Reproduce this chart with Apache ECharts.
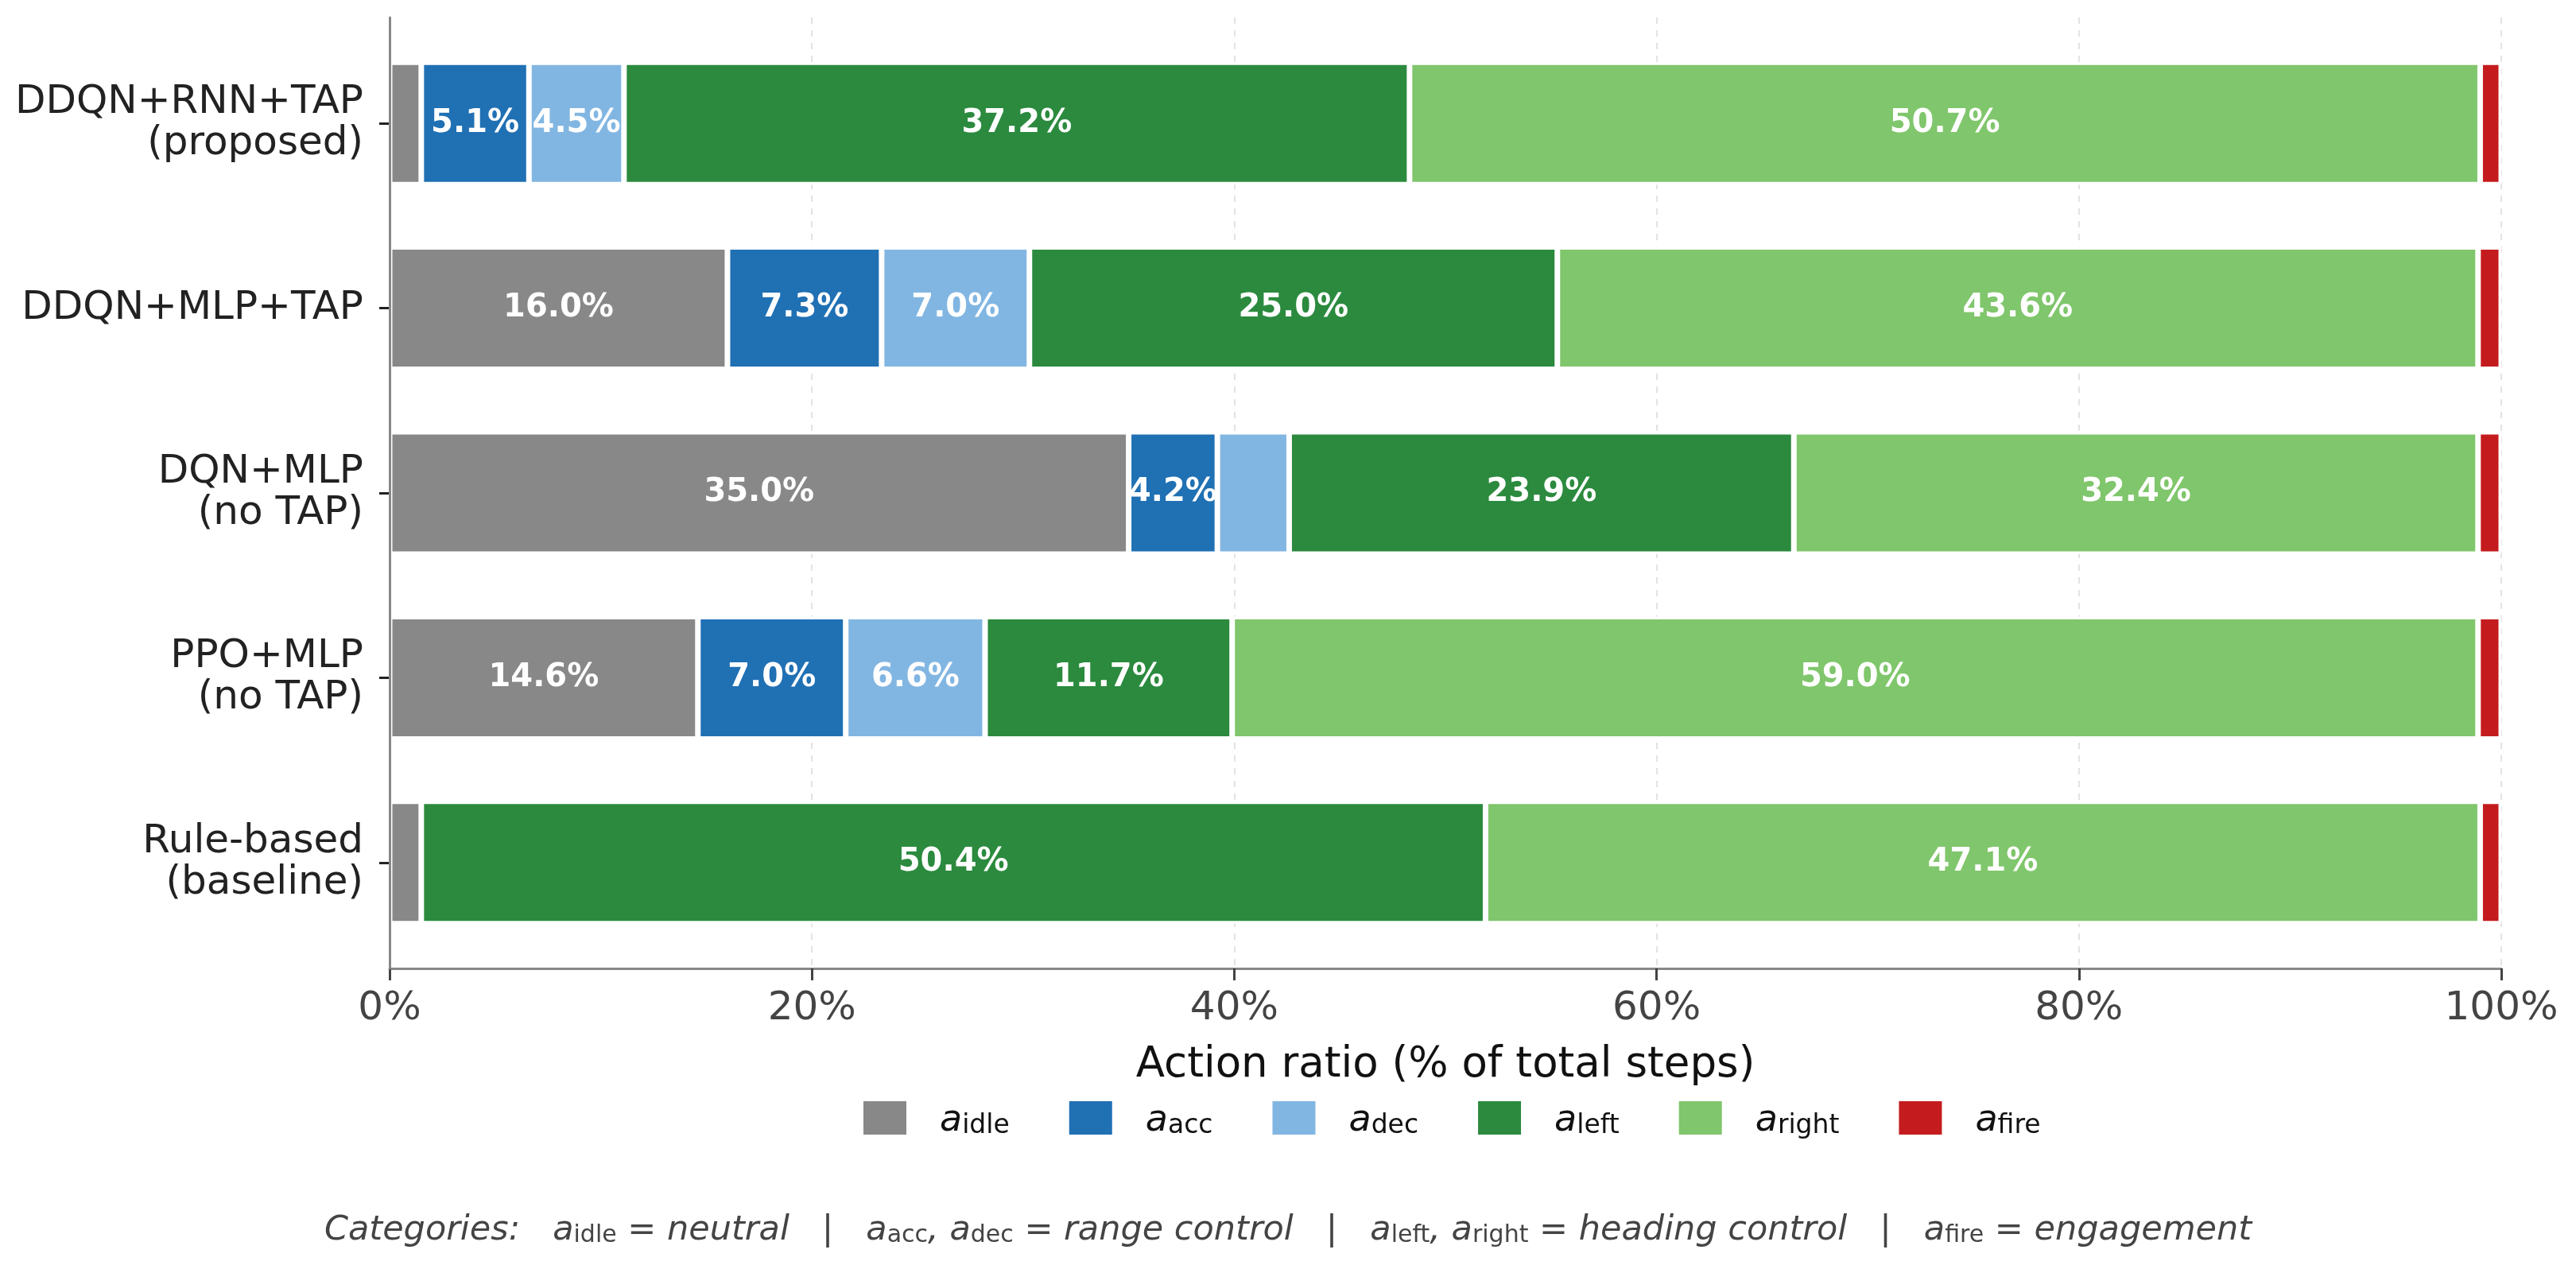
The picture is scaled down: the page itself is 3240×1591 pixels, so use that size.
<!DOCTYPE html>
<html>
<head>
<meta charset="utf-8">
<script src="https://cdn.jsdelivr.net/npm/echarts@6/dist/echarts.min.js"></script>
<style>
  html, body { margin: 0; padding: 0; background: #fff; }
  #main { width: 3240px; height: 1591px; }
</style>
</head>
<body>
<div id="main"></div>
<script>
// methods, top to bottom
var methods = [
  'DDQN+RNN+TAP\n(proposed)',
  'DDQN+MLP+TAP',
  'DQN+MLP\n(no TAP)',
  'PPO+MLP\n(no TAP)',
  'Rule-based\n(baseline)'
]
// action shares in % of total steps
var idle = [1.5, 16.0, 35.0, 14.6, 1.5]
var acc = [5.1, 7.3, 4.2, 7.0, 0]
var dec = [4.5, 7.0, 3.4, 6.6, 0]
var left = [37.2, 25.0, 23.9, 11.7, 50.4]
var right = [50.7, 43.6, 32.4, 59.0, 47.1]
var fire = [1.0, 1.1, 1.1, 1.1, 1.0]

var actionKeys = ['idle', 'acc', 'dec', 'left', 'right', 'fire']
var actionData = [idle, acc, dec, left, right, fire]
var colors = ['#888888', '#2070b4', '#82b6e2', '#2b8a3e', '#80c66c', '#c41c1e']
var xTicks = [0, 20, 40, 60, 80, 100]

var font = 'DejaVu Sans'

var series = actionKeys.map(function (k, i) {
  return {
    name: k,
    type: 'bar',
    stack: 'total',
    xAxisIndex: 0,
    yAxisIndex: 0,
    barWidth: 154,
    data: actionData[i],
    itemStyle: { color: colors[i], borderColor: '#ffffff', borderWidth: 3.5 },
    label: {
      show: true,
      position: 'inside',
      color: '#ffffff',
      fontFamily: font,
      fontWeight: 'bold',
      fontSize: 40,
      formatter: function (p) {
        return p.value >= 4 ? p.value.toFixed(1) + '%' : ''
      }
    },
    emphasis: { disabled: true }
  }
})

var subRich = {
  a: { fontFamily: font, fontStyle: 'italic', fontSize: 46, color: '#111', verticalAlign: 'bottom', lineHeight: 54 },
  s: { fontFamily: font, fontStyle: 'normal', fontSize: 33, color: '#111', verticalAlign: 'bottom', lineHeight: 32 }
}
var noteRich = {
  a: { fontFamily: font, fontStyle: 'italic', fontWeight: 'normal', fontSize: 43, color: '#444', verticalAlign: 'bottom', lineHeight: 52 },
  s: { fontFamily: font, fontStyle: 'normal', fontWeight: 'normal', fontSize: 30, color: '#444', verticalAlign: 'bottom', lineHeight: 30 },
  t: { fontFamily: font, fontStyle: 'italic', fontWeight: 'normal', fontSize: 43, color: '#444', verticalAlign: 'bottom', lineHeight: 52 }
}

var note = '{t|Categories:   }{a|a}{s|idle}{t| = neutral   |   }{a|a}{s|acc}{t|, }{a|a}{s|dec}{t| = range control   |   }' +
  '{a|a}{s|left}{t|, }{a|a}{s|right}{t| = heading control   |   }{a|a}{s|fire}{t| = engagement}'

var myChart = echarts.init(document.getElementById('main'))
var option = {
  backgroundColor: '#ffffff',
  animation: false,
  textStyle: { fontFamily: font },
  title: {
    text: note,
    left: 'center',
    top: 1512,
    textStyle: { fontFamily: font, fontStyle: 'italic', fontWeight: 'normal', fontSize: 43, color: '#444', rich: noteRich }
  },
  legend: {
    left: 1081,
    top: 1380,
    itemWidth: 54,
    itemHeight: 42,
    itemGap: 75,
    icon: 'rect',
    itemStyle: { borderWidth: 0 },
    data: actionKeys,
    formatter: function (name) {
      return '{a|a}{s|' + name + '}'
    },
    textStyle: { padding: [0, 0, 0, 37], rich: subRich }
  },
  grid: [
    { left: 490, right: 94, top: 39, height: 1162 },
    { left: 490, right: 94, top: 22, height: 1196 }
  ],
  xAxis: [
    { gridIndex: 0, type: 'value', min: 0, max: 100, show: false },
    {
      gridIndex: 1,
      type: 'value',
      min: 0,
      max: 100,
      interval: 20,
      axisLine: { show: true, onZero: false, lineStyle: { color: '#888888', width: 3 } },
      axisTick: { show: true, length: 15, lineStyle: { color: '#444444', width: 3 } },
      axisLabel: {
        fontFamily: font,
        fontSize: 50,
        color: '#444444',
        margin: 26,
        formatter: function (v) { return xTicks.indexOf(v) >= 0 ? v + '%' : '' }
      },
      splitLine: { show: true, lineStyle: { color: '#e3e3e3', width: 2, type: [8, 8] } },
      name: 'Action ratio (% of total steps)',
      nameLocation: 'middle',
      nameGap: 96,
      nameTextStyle: { fontFamily: font, fontSize: 53, color: '#111111' }
    }
  ],
  yAxis: [
    {
      gridIndex: 0,
      type: 'category',
      inverse: true,
      data: methods,
      axisLine: { show: false },
      axisTick: { show: true, alignWithLabel: true, length: 13, lineStyle: { color: '#222222', width: 3 } },
      axisLabel: { fontFamily: font, fontSize: 50, color: '#222222', lineHeight: 52, margin: 33, align: 'right' },
      splitLine: { show: false }
    },
    {
      gridIndex: 1,
      type: 'value',
      min: 0,
      max: 1,
      z: 5,
      axisLine: { show: true, onZero: false, lineStyle: { color: '#888888', width: 3 } },
      axisTick: { show: false },
      axisLabel: { show: false },
      splitLine: { show: false }
    }
  ],
  series: series
}
myChart.setOption(option)
</script>
</body>
</html>
